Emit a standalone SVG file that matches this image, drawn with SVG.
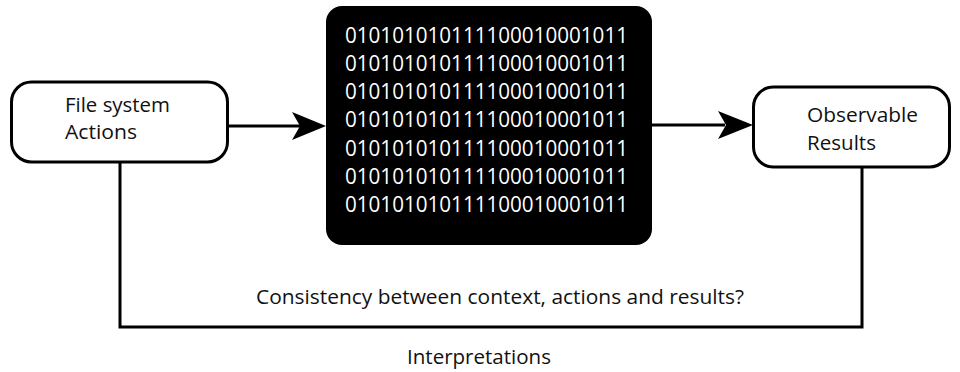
<svg xmlns="http://www.w3.org/2000/svg" width="960" height="372" viewBox="0 0 960 372">
  <style>
    .box { fill: #fff; stroke: #000; stroke-width: 3; }
    .label { font-family: "Open Sans", "Noto Sans", sans-serif; font-size: 20.5px; fill: #111; }
    .bits { font-family: "Open Sans", "Noto Sans", sans-serif; font-size: 21px; fill: #fff; }
    .wire { fill: none; stroke: #000; stroke-width: 3; }
    .head { fill: #000; stroke: none; }
  </style>
  <rect width="960" height="372" fill="#fff"/>

  <g id="file-system-actions">
    <rect class="box" x="11.5" y="82" width="216" height="80" rx="20" ry="20"/>
    <text class="label" x="65" y="112" textLength="105" lengthAdjust="spacingAndGlyphs">File system</text>
    <text class="label" x="65" y="139" textLength="72" lengthAdjust="spacingAndGlyphs">Actions</text>
  </g>

  <g id="binary-data">
    <rect x="326" y="6" width="326" height="239" rx="16" ry="16" fill="#000"/>
    <text class="bits" x="345" y="43" textLength="283" lengthAdjust="spacingAndGlyphs">010101010111100010001011</text>
    <text class="bits" x="345" y="71" textLength="283" lengthAdjust="spacingAndGlyphs">010101010111100010001011</text>
    <text class="bits" x="345" y="99" textLength="283" lengthAdjust="spacingAndGlyphs">010101010111100010001011</text>
    <text class="bits" x="345" y="127" textLength="283" lengthAdjust="spacingAndGlyphs">010101010111100010001011</text>
    <text class="bits" x="345" y="156" textLength="283" lengthAdjust="spacingAndGlyphs">010101010111100010001011</text>
    <text class="bits" x="345" y="184" textLength="283" lengthAdjust="spacingAndGlyphs">010101010111100010001011</text>
    <text class="bits" x="345" y="212" textLength="283" lengthAdjust="spacingAndGlyphs">010101010111100010001011</text>
  </g>

  <g id="observable-results">
    <rect class="box" x="753.5" y="87" width="196" height="80" rx="20" ry="20"/>
    <text class="label" x="807" y="122" textLength="111" lengthAdjust="spacingAndGlyphs">Observable</text>
    <text class="label" x="807" y="150" textLength="69" lengthAdjust="spacingAndGlyphs">Results</text>
  </g>

  <g id="connectors">
    <line class="wire" x1="228" y1="126" x2="300" y2="126"/>
    <path class="head" d="M326 126 L292 112 L300 126 L292 140 Z"/>
    <line class="wire" x1="652" y1="125" x2="725" y2="125"/>
    <path class="head" d="M753 125 L718 111 L726 125 L718 139 Z"/>
    <polyline class="wire" points="120,162 120,327 862,327 862,167"/>
  </g>

  <g id="loop-labels">
    <text class="label" x="256" y="304" textLength="488" lengthAdjust="spacingAndGlyphs">Consistency between context, actions and results?</text>
    <text class="label" x="407" y="364" textLength="144" lengthAdjust="spacingAndGlyphs">Interpretations</text>
  </g>
</svg>
